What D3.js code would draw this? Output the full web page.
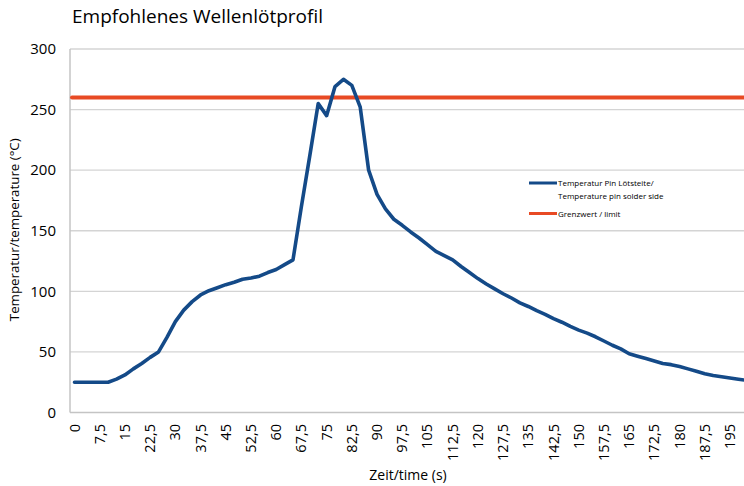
<!doctype html>
<html lang="de">
<head>
<meta charset="utf-8">
<script src="https://d3js.org/d3.v7.min.js"></script>
<style>
  body { margin: 0; background: #fff; }
  svg { display: block; font-family: "Open Sans", "DejaVu Sans", sans-serif; }
</style>
</head>
<body>
<div id="chart"></div>
<script>
// Zeit in s (alle 2,5 s)
var times = d3.range(0, 81).map(function (i) { return i * 2.5; });
// Temperatur Pin Lötseite
var temps = [25, 25, 25, 25, 25, 27.5, 31, 36, 40.5, 45.5,
             50, 62, 75, 84.5, 91.5, 97, 100.5, 103, 105.5, 107.5,
             110, 111, 112.5, 115.5, 118, 122, 126, 170, 212, 255,
             245, 269, 275, 270, 252, 200, 180, 168, 159.5, 154.5,
             149, 144, 138.5, 133, 129.5, 126, 120.5, 115.5, 110.5, 106,
             102, 98, 94.5, 90.5, 87.5, 84, 81, 77.5, 74.5, 71,
             68, 65.5, 62.5, 59, 55.5, 52.5, 48.5, 46.5, 44.5, 42.5,
             40.5, 39.5, 38, 36, 34, 32, 30.5, 29.5, 28.5, 27.5, 26.5];
var limit = 260;
var xTicks = d3.range(0, 27).map(function (i) { return i * 7.5; });
var yTicks = [0, 50, 100, 150, 200, 250, 300];

var width = 744, height = 486;
var plotLeft = 70, plotTop = 49, plotBottom = 412.5;

var svg = d3.select("#chart").append("svg")
    .attr("width", width)
    .attr("height", height);

var x = d3.scaleLinear().domain([0, 195]).range([74.5, 730]);
var y = d3.scaleLinear().domain([0, 300]).range([plotBottom, plotTop]);

// gridlines
svg.append("g")
    .selectAll("line")
    .data(yTicks.slice(1))
    .enter()
    .append("line")
    .attr("x1", plotLeft).attr("x2", width + 10)
    .attr("y1", function (d) { return y(d); })
    .attr("y2", function (d) { return y(d); })
    .attr("stroke", "#d4d4d4")
    .attr("stroke-width", 1.3);

// axes lines
svg.append("line")
    .attr("x1", plotLeft).attr("x2", plotLeft).attr("y1", plotTop).attr("y2", plotBottom)
    .attr("stroke", "#c4c4c4").attr("stroke-width", 1.5);
svg.append("line")
    .attr("x1", plotLeft).attr("x2", width + 10).attr("y1", plotBottom).attr("y2", plotBottom)
    .attr("stroke", "#c4c4c4").attr("stroke-width", 1.5);

// y tick labels
var yAxis = d3.axisLeft(y).tickValues(yTicks).tickSize(0).tickPadding(14);
var gy = svg.append("g").attr("transform", "translate(" + plotLeft + ",0)").call(yAxis);
gy.select(".domain").remove();
gy.selectAll("text").style("font-size", "15px").attr("fill", "#000")
    .style("font-family", "'Open Sans', sans-serif");

// x tick labels (rotated)
svg.append("g")
    .selectAll("text")
    .data(xTicks)
    .enter()
    .append("text")
    .attr("transform", function (d) { return "translate(" + (x(d) + 5) + ",424) rotate(-90)"; })
    .attr("text-anchor", "end")
    .style("font-size", "14.5px")
    .text(function (d) { return String(d).replace(".", ","); });

// limit line
svg.append("line")
    .attr("x1", plotLeft + 2).attr("x2", width + 10)
    .attr("y1", y(limit)).attr("y2", y(limit))
    .attr("stroke", "#e84a24")
    .attr("stroke-width", 4)
    .attr("stroke-linecap", "round");

// temperature line
var line = d3.line()
    .x(function (d, i) { return x(times[i]); })
    .y(function (d) { return y(d); });

svg.append("path")
    .datum(temps)
    .attr("d", line)
    .attr("fill", "none")
    .attr("stroke", "#144a88")
    .attr("stroke-width", 3.6)
    .attr("stroke-linejoin", "round")
    .attr("stroke-linecap", "round");

// title
svg.append("text")
    .attr("x", 72).attr("y", 23)
    .style("font-size", "19px")
    .text("Empfohlenes Wellenlötprofil");

// axis titles
svg.append("text")
    .attr("transform", "translate(19," + ((plotTop + plotBottom) / 2 - 1) + ") rotate(-90)")
    .attr("text-anchor", "middle")
    .style("font-size", "13.3px")
    .text("Temperatur/temperature (°C)");

svg.append("text")
    .attr("x", 408).attr("y", 480)
    .attr("text-anchor", "middle")
    .style("font-size", "14px")
    .text("Zeit/time (s)");

// legend
var legend = svg.append("g").style("font-size", "8px");
legend.append("line")
    .attr("x1", 529).attr("x2", 557).attr("y1", 183).attr("y2", 183)
    .attr("stroke", "#144a88").attr("stroke-width", 3);
legend.append("text").attr("x", 558).attr("y", 186).text("Temperatur Pin Lötsteite/");
legend.append("text").attr("x", 558).attr("y", 198.5).text("Temperature pin solder side");
legend.append("line")
    .attr("x1", 529).attr("x2", 557).attr("y1", 213.5).attr("y2", 213.5)
    .attr("stroke", "#e84a24").attr("stroke-width", 3);
legend.append("text").attr("x", 558).attr("y", 216.5).text("Grenzwert / limit");
</script>
</body>
</html>
